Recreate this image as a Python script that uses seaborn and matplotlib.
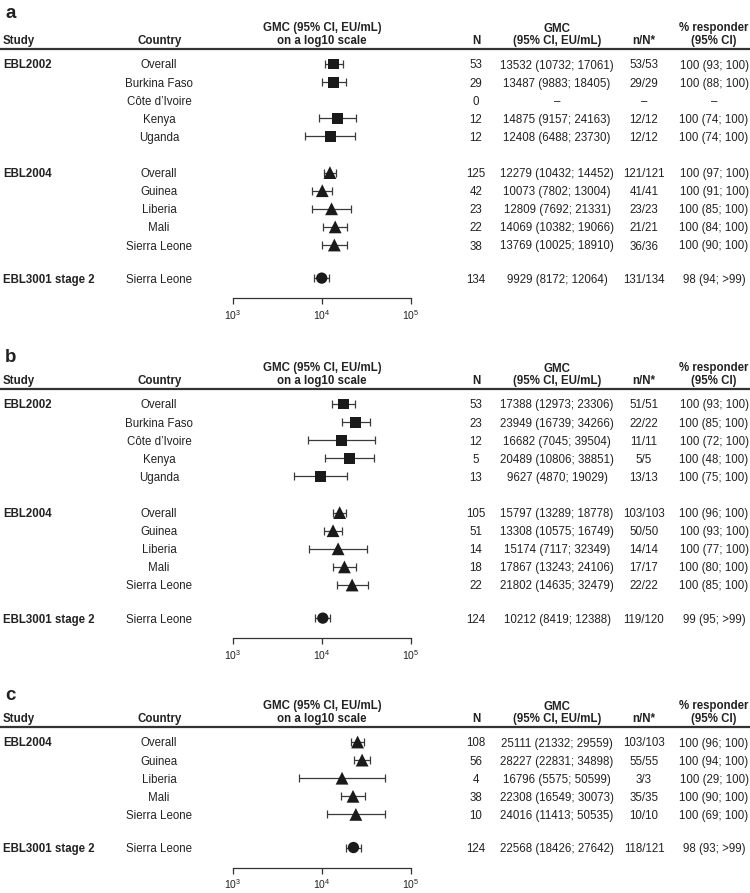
import numpy as np
import pandas as pd
import matplotlib
matplotlib.use('Agg')
import matplotlib.pyplot as plt
import matplotlib.transforms as mtransforms
from matplotlib.lines import Line2D
from matplotlib.ticker import NullLocator, FixedLocator
import seaborn as sns

# ---------------- panel a ----------------
a_study = ['EBL2002'] * 5 + ['EBL2004'] * 5 + ['EBL3001 stage 2']
a_country = ['Overall', 'Burkina Faso', 'Côte d\u2019Ivoire', 'Kenya', 'Uganda',
             'Overall', 'Guinea', 'Liberia', 'Mali', 'Sierra Leone', 'Sierra Leone']
a_n = [53, 29, 0, 12, 12, 125, 42, 23, 22, 38, 134]
a_gmc = [13532, 13487, np.nan, 14875, 12408, 12279, 10073, 12809, 14069, 13769, 9929]
a_lo = [10732, 9883, np.nan, 9157, 6488, 10432, 7802, 7692, 10382, 10025, 8172]
a_hi = [17061, 18405, np.nan, 24163, 23730, 14452, 13004, 21331, 19066, 18910, 12064]
a_nn = ['53/53', '29/29', '\u2013', '12/12', '12/12', '121/121', '41/41', '23/23', '21/21', '36/36', '131/134']
a_resp = ['100 (93; 100)', '100 (88; 100)', '\u2013', '100 (74; 100)', '100 (74; 100)',
          '100 (97; 100)', '100 (91; 100)', '100 (85; 100)', '100 (84; 100)', '100 (90; 100)',
          '98 (94; >99)']

# ---------------- panel b ----------------
b_study = ['EBL2002'] * 5 + ['EBL2004'] * 5 + ['EBL3001 stage 2']
b_country = a_country
b_n = [53, 23, 12, 5, 13, 105, 51, 14, 18, 22, 124]
b_gmc = [17388, 23949, 16682, 20489, 9627, 15797, 13308, 15174, 17867, 21802, 10212]
b_lo = [12973, 16739, 7045, 10806, 4870, 13289, 10575, 7117, 13243, 14635, 8419]
b_hi = [23306, 34266, 39504, 38851, 19029, 18778, 16749, 32349, 24106, 32479, 12388]
b_nn = ['51/51', '22/22', '11/11', '5/5', '13/13', '103/103', '50/50', '14/14', '17/17', '22/22', '119/120']
b_resp = ['100 (93; 100)', '100 (85; 100)', '100 (72; 100)', '100 (48; 100)', '100 (75; 100)',
          '100 (96; 100)', '100 (93; 100)', '100 (77; 100)', '100 (80; 100)', '100 (85; 100)',
          '99 (95; >99)']

# ---------------- panel c ----------------
c_study = ['EBL2004'] * 5 + ['EBL3001 stage 2']
c_country = ['Overall', 'Guinea', 'Liberia', 'Mali', 'Sierra Leone', 'Sierra Leone']
c_n = [108, 56, 4, 38, 10, 124]
c_gmc = [25111, 28227, 16796, 22308, 24016, 22568]
c_lo = [21332, 22831, 5575, 16549, 11413, 18426]
c_hi = [29559, 34898, 50599, 30073, 50535, 27642]
c_nn = ['103/103', '55/55', '3/3', '35/35', '10/10', '118/121']
c_resp = ['100 (96; 100)', '100 (94; 100)', '100 (29; 100)', '100 (90; 100)', '100 (69; 100)',
          '98 (93; >99)']

sns.set_style('ticks')
plt.rcParams['font.family'] = ['Liberation Sans', 'DejaVu Sans']
plt.rcParams['mathtext.fontset'] = 'custom'
plt.rcParams['mathtext.rm'] = 'Liberation Sans'
plt.rcParams['mathtext.it'] = 'Liberation Sans'
plt.rcParams['mathtext.bf'] = 'Liberation Sans:bold'

W, H = 750, 893
FS = 8.3
TXT = '#222222'
PITCH = 18.1
markers = {'EBL2002': 's', 'EBL2004': '^', 'EBL3001 stage 2': 'o'}
msizes = {'EBL2002': 62, 'EBL2004': 85, 'EBL3001 stage 2': 66}

fig = plt.figure(figsize=(7.5, 8.93), dpi=100)


def fx(px):
    return px / W


def fy(py):
    return 1 - py / H


def row_pos(studies):
    pos, cur, prev = [], 0.0, None
    for s in studies:
        if prev is not None:
            cur += 1
            if s != prev:
                cur += 0.83 if s.startswith('EBL3001') else 1.0
        pos.append(cur)
        prev = s
    return pos


def panel(label, y0, lab_y, study, country, n, gmc, lo, hi, nn, resp):
    # y0 = pixel row of the header rule
    first = y0 + 15
    df = pd.DataFrame(dict(study=study, country=country, n=n, gmc=gmc, lo=lo, hi=hi, nn=nn, resp=resp))
    df['row'] = row_pos(study)
    last = df['row'].max()
    ax_y = first + (last + 1.12) * PITCH
    ax = fig.add_axes([fx(233), fy(ax_y), (411 - 233) / W, (ax_y - y0) / H])
    ax.set_xscale('log')

    d = df.dropna(subset=['gmc'])
    ax.errorbar(d['gmc'], d['row'], xerr=[d['gmc'] - d['lo'], d['hi'] - d['gmc']],
                fmt='none', ecolor='#3a3a3a', elinewidth=0.9, capsize=2.8, capthick=0.9,
                zorder=2, clip_on=False)
    sns.scatterplot(data=d, x='gmc', y='row', style='study', markers=markers,
                    size='study', sizes=msizes,
                    color='#1a1a1a', linewidth=0, legend=False, ax=ax, zorder=3,
                    clip_on=False)

    ax.set_xlim(1e3, 1e5)
    ax.set_ylim(last + 1.12, -(first - y0) / PITCH)
    ax.xaxis.set_major_locator(FixedLocator([1e3, 1e4, 1e5]))
    ax.xaxis.set_minor_locator(NullLocator())
    ax.set_yticks([])
    ax.set_xlabel('')
    ax.set_ylabel('')
    for sp in ['left', 'top', 'right']:
        ax.spines[sp].set_visible(False)
    ax.spines['bottom'].set_color('#333333')
    ax.spines['bottom'].set_linewidth(0.9)
    ax.tick_params(axis='x', direction='out', length=4, width=0.9, color='#333333',
                   labelsize=7.5, labelcolor=TXT, pad=3)
    ax.patch.set_alpha(0)

    tr = mtransforms.blended_transform_factory(fig.transFigure, ax.transData)
    prev = None
    for _, r in df.iterrows():
        y = r['row']
        if r['study'] != prev:
            ax.text(fx(3), y, r['study'], transform=tr, ha='left', va='center_baseline',
                    fontsize=FS, weight='bold', color=TXT)
        prev = r['study']
        if np.isnan(r['gmc']):
            gtxt = '\u2013'
        else:
            gtxt = f"{int(r['gmc'])} ({int(r['lo'])}; {int(r['hi'])})"
        for xp, t in [(159, r['country']), (476, str(r['n'])), (557, gtxt),
                      (644, r['nn']), (714, r['resp'])]:
            ax.text(fx(xp), y, t, transform=tr, ha='center', va='center_baseline',
                    fontsize=FS, color=TXT)

    # header
    b2 = y0 - 5
    b1 = y0 - 17.5
    hk = dict(fontsize=FS, weight='bold', color=TXT, va='baseline')
    fig.text(fx(3), fy(b2), 'Study', ha='left', **hk)
    fig.text(fx(160), fy(b2), 'Country', ha='center', **hk)
    fig.text(fx(322), fy(b1), 'GMC (95% CI, EU/mL)', ha='center', **hk)
    fig.text(fx(322), fy(b2), 'on a log10 scale', ha='center', **hk)
    fig.text(fx(476), fy(b2), 'N', ha='center', **hk)
    fig.text(fx(557), fy(b1), 'GMC', ha='center', **hk)
    fig.text(fx(557), fy(b2), '(95% CI, EU/mL)', ha='center', **hk)
    fig.text(fx(644), fy(b2), 'n/N*', ha='center', **hk)
    fig.text(fx(714), fy(b1), '% responder', ha='center', **hk)
    fig.text(fx(714), fy(b2), '(95% CI)', ha='center', **hk)
    fig.add_artist(Line2D([0, 1], [fy(y0), fy(y0)], transform=fig.transFigure,
                          color='#333333', lw=1.6))
    fig.text(fx(5), fy(lab_y), label, fontsize=13.5, weight='bold', color=TXT,
             ha='left', va='baseline')


panel('a', 49, 18, a_study, a_country, a_n, a_gmc, a_lo, a_hi, a_nn, a_resp)
panel('b', 389, 362, b_study, b_country, b_n, b_gmc, b_lo, b_hi, b_nn, b_resp)
panel('c', 727, 700, c_study, c_country, c_n, c_gmc, c_lo, c_hi, c_nn, c_resp)

fig.savefig('out.png', dpi=100, facecolor='white')
